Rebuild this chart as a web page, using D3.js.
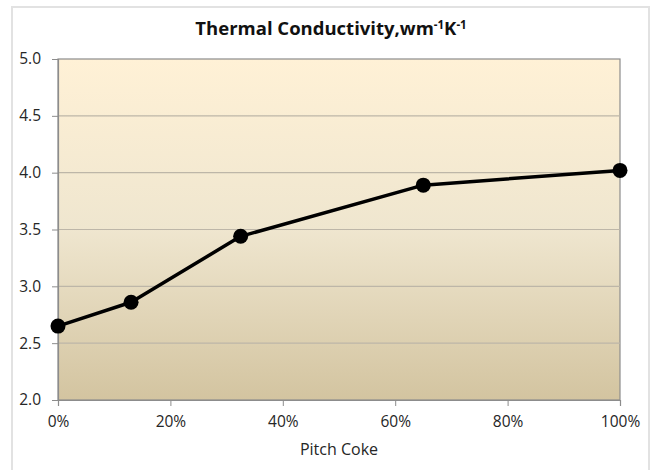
<!DOCTYPE html>
<html>
<head>
<meta charset="utf-8">
<script src="https://cdn.jsdelivr.net/npm/d3@7"></script>
<style>
    body { margin: 0; background: #ffffff; }
    text { font-family: "Open Sans", "Liberation Sans", sans-serif; }
</style>
</head>
<body>
<svg id="chart"></svg>
<script>
'use strict';

/*
    Data
*/

const PITCH_COKE   = [0, 0.13, 0.325, 0.65, 1.0];
const CONDUCTIVITY = [2.65, 2.86, 3.44, 3.89, 4.02];

const X_TICKS = [0, 0.2, 0.4, 0.6, 0.8, 1.0];
const Y_TICKS = [2.0, 2.5, 3.0, 3.5, 4.0, 4.5, 5.0];

/*
    Constants
*/

const WIDTH  = 654;
const HEIGHT = 470;

const PLOT = Object.freeze({
    LEFT   : 58,
    RIGHT  : 620,
    TOP    : 59,
    BOTTOM : 400
});

const SVG = d3.select('#chart')
    .attr('width', WIDTH)
    .attr('height', HEIGHT);

const x = d3.scaleLinear().domain([0, 1]).range([PLOT.LEFT, PLOT.RIGHT]);
const y = d3.scaleLinear().domain([2, 5]).range([PLOT.BOTTOM, PLOT.TOP]);

/*
    Background
*/

// Outer chart border
SVG.append('rect')
    .attr('x', 12).attr('y', 7)
    .attr('width', 637).attr('height', 470)
    .attr('fill', '#ffffff')
    .attr('stroke', '#e2e2e2')
    .attr('stroke-width', 2);

const grad = SVG.append('defs').append('linearGradient')
    .attr('id', 'plotBg')
    .attr('x1', 0).attr('y1', 0).attr('x2', 0).attr('y2', 1);
grad.append('stop').attr('offset', '0%').attr('stop-color', '#fff1d6');
grad.append('stop').attr('offset', '50%').attr('stop-color', '#efe6cf');
grad.append('stop').attr('offset', '100%').attr('stop-color', '#d3c4a0');

SVG.append('rect')
    .attr('x', PLOT.LEFT).attr('y', PLOT.TOP)
    .attr('width', PLOT.RIGHT - PLOT.LEFT)
    .attr('height', PLOT.BOTTOM - PLOT.TOP)
    .attr('fill', 'url(#plotBg)')
    .attr('stroke', '#8c8c8c')
    .attr('stroke-width', 1.2);

// Horizontal gridlines
SVG.append('g')
    .selectAll('line')
    .data(Y_TICKS.slice(1, -1))
    .join('line')
      .attr('x1', PLOT.LEFT).attr('x2', PLOT.RIGHT)
      .attr('y1', d => y(d)).attr('y2', d => y(d))
      .attr('stroke', '#bdb6a8')
      .attr('stroke-width', 1.2);

/*
    Axes
*/

const yAxis = SVG.append('g')
    .attr('transform', `translate(${PLOT.LEFT},0)`)
    .call(d3.axisLeft(y).tickValues(Y_TICKS).tickFormat(d3.format('.1f')).tickSize(6).tickPadding(11));

const xAxis = SVG.append('g')
    .attr('transform', `translate(0,${PLOT.BOTTOM})`)
    .call(d3.axisBottom(x).tickValues(X_TICKS).tickFormat(d3.format('.0%')).tickSize(6).tickPadding(10));

[yAxis, xAxis].forEach(axis => {
    axis.select('.domain').attr('stroke', '#8c8c8c').attr('stroke-width', 1.2);
    axis.selectAll('.tick line').attr('stroke', '#8c8c8c');
    axis.selectAll('.tick text')
        .attr('fill', '#262626')
        .style('font-size', '15.5px');
});

/*
    Series
*/

const points = PITCH_COKE.map((p, i) => ({ p, v: CONDUCTIVITY[i] }));

SVG.append('path')
    .datum(points)
    .attr('fill', 'none')
    .attr('stroke', '#000000')
    .attr('stroke-width', 3.5)
    .attr('stroke-linejoin', 'round')
    .attr('d', d3.line().x(d => x(d.p)).y(d => y(d.v)));

SVG.append('g')
    .selectAll('circle')
    .data(points)
    .join('circle')
      .attr('cx', d => x(d.p))
      .attr('cy', d => y(d.v))
      .attr('r', 7.5)
      .attr('fill', '#000000');

/*
    Titles
*/

const title = SVG.append('text')
    .attr('x', 331)
    .attr('y', 35)
    .attr('text-anchor', 'middle')
    .attr('fill', '#111111')
    .style('font-size', '18.5px')
    .style('font-weight', 'bold');
title.append('tspan').text('Thermal Conductivity,wm');
title.append('tspan').attr('dy', -6).style('font-size', '11.5px').text('-1');
title.append('tspan').attr('dy', 6).text('K');
title.append('tspan').attr('dy', -6).style('font-size', '11.5px').text('-1');

SVG.append('text')
    .attr('x', (PLOT.LEFT + PLOT.RIGHT) / 2)
    .attr('y', 455)
    .attr('text-anchor', 'middle')
    .attr('fill', '#262626')
    .style('font-size', '16px')
    .text('Pitch Coke');
</script>
</body>
</html>
